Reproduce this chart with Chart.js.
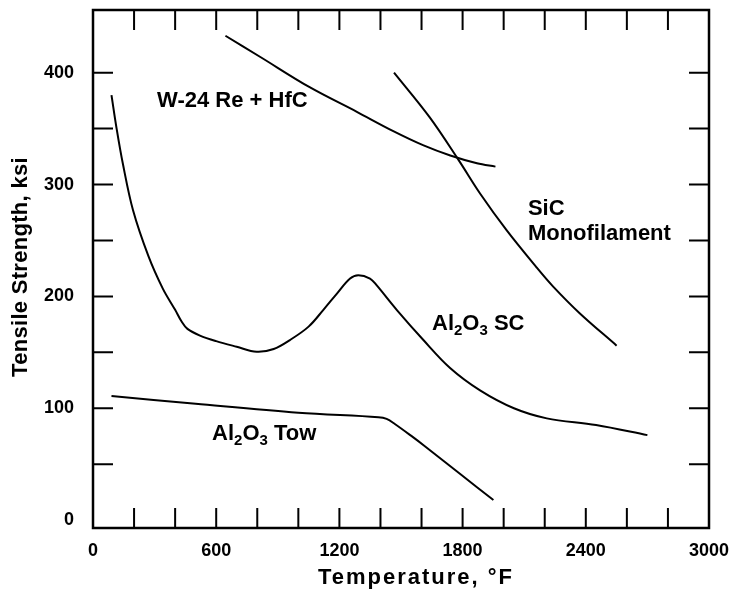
<!DOCTYPE html>
<html>
<head>
<meta charset="utf-8">
<script src="https://cdn.jsdelivr.net/npm/chart.js@4.4.1/dist/chart.umd.min.js"></script>
<style>
  html, body { margin: 0; padding: 0; background: #fff; }
  #wrap { width: 732px; height: 592px; }
</style>
</head>
<body>
<div id="wrap"><canvas id="chart"></canvas></div>
<script>
// tensile strength (ksi) against temperature (°F)
const w24Temp = [645, 815, 1055, 1285, 1460, 1610, 1740, 1870, 1960];
const w24Strength = [433, 414, 387, 365, 348, 335, 326, 319, 316];

const sicTemp = [1466, 1640, 1780, 1885, 2015, 2160, 2240, 2370, 2550];
const sicStrength = [400, 360, 322, 292, 259, 226, 209, 185, 156];

const scTemp = [90, 115, 145, 195, 270, 340, 400, 430, 460, 521, 600, 700, 797, 880, 959,
  1050, 1122, 1190, 1252, 1292, 1349, 1381, 1479, 1609, 1739, 1885, 2050, 2210, 2450, 2700];
const scStrength = [380, 350, 319, 277, 236, 207, 188, 178, 171, 165, 160, 155, 150.5, 153, 161,
  173, 188, 203, 216, 219, 216, 210, 188, 161, 136, 116, 100, 91, 85, 76];

const towTemp = [90, 500, 1000, 1390, 1430, 1470, 1560, 1610, 1790, 1950];
const towStrength = [111, 104, 96, 92, 90.5, 86, 74, 67, 41, 18];

const xTickLabels = [0, 600, 1200, 1800, 2400, 3000];
const yTickLabels = [0, 100, 200, 300, 400];
const xTickMarks = [200, 400, 600, 800, 1000, 1200, 1400, 1600, 1800, 2000, 2200, 2400, 2600, 2800];
const yTickMarks = [50, 100, 150, 200, 250, 300, 350, 400];

const FONT = "'Liberation Sans', Arial, Helvetica, sans-serif";

function pts(xs, ys) {
  return xs.map((x, i) => ({ x: x, y: ys[i] }));
}

function curve(label, xs, ys) {
  return {
    label: label,
    data: pts(xs, ys),
    borderColor: '#000',
    borderWidth: 2,
    pointRadius: 0,
    fill: false,
    tension: 0.35
  };
}

// curve captions, anchored in data units (left edge, baseline)
const notes = [
  { x: 312, y: 369, parts: [['W-24 Re + HfC']] },
  { x: 2118, y: 273, parts: [['SiC']] },
  { x: 2118, y: 250, parts: [['Monofilament']] },
  { x: 1651, y: 170, parts: [['Al'], ['2', true], ['O'], ['3', true], [' SC']] },
  { x: 580, y: 71.5, parts: [['Al'], ['2', true], ['O'], ['3', true], [' Tow']] }
];

function drawParts(ctx, parts, x, y) {
  parts.forEach(([t, sub]) => {
    ctx.font = (sub ? 'bold 15px ' : 'bold 22px ') + FONT;
    ctx.fillText(t, x, sub ? y + 5 : y);
    x += ctx.measureText(t).width;
  });
}

const frame = {
  id: 'frame',
  afterDatasetsDraw(chart) {
    const { ctx, chartArea: a, scales: { x, y } } = chart;
    ctx.save();
    ctx.strokeStyle = '#000';
    ctx.lineWidth = 2.5;
    ctx.strokeRect(a.left, a.top, a.right - a.left, a.bottom - a.top);

    // inward tick marks on all four sides
    ctx.lineWidth = 2;
    ctx.beginPath();
    xTickMarks.forEach(v => {
      const px = x.getPixelForValue(v);
      ctx.moveTo(px, a.bottom); ctx.lineTo(px, a.bottom - 20);
      ctx.moveTo(px, a.top); ctx.lineTo(px, a.top + 20);
    });
    yTickMarks.forEach(v => {
      const py = y.getPixelForValue(v);
      ctx.moveTo(a.left, py); ctx.lineTo(a.left + 20, py);
      ctx.moveTo(a.right, py); ctx.lineTo(a.right - 20, py);
    });
    ctx.stroke();

    ctx.fillStyle = '#000';
    ctx.textBaseline = 'alphabetic';
    ctx.textAlign = 'left';
    notes.forEach(n => drawParts(ctx, n.parts, x.getPixelForValue(n.x), y.getPixelForValue(n.y)));

    // axis titles
    ctx.font = 'bold 22px ' + FONT;
    ctx.textAlign = 'center';
    ctx.textBaseline = 'middle';
    ctx.letterSpacing = '2px';
    ctx.fillText('Temperature, °F', (a.left + a.right) / 2 + 15, 578);
    ctx.letterSpacing = '0.3px';
    ctx.translate(21, (a.top + a.bottom) / 2 - 2);
    ctx.rotate(-Math.PI / 2);
    ctx.fillText('Tensile Strength, ksi', 0, 0);
    ctx.restore();
  }
};

new Chart(document.getElementById('chart'), {
  type: 'line',
  data: {
    datasets: [
      curve('W-24 Re + HfC', w24Temp, w24Strength),
      curve('SiC Monofilament', sicTemp, sicStrength),
      curve('Al2O3 SC', scTemp, scStrength),
      curve('Al2O3 Tow', towTemp, towStrength)
    ]
  },
  options: {
    responsive: true,
    maintainAspectRatio: false,
    animation: false,
    layout: { padding: { top: 10, right: 23, left: 0, bottom: 0 } },
    plugins: { legend: { display: false }, tooltip: { enabled: false } },
    scales: {
      x: {
        type: 'linear',
        min: 0,
        max: 3000,
        afterBuildTicks: s => { s.ticks = xTickLabels.map(v => ({ value: v })); },
        afterFit: s => { s.height = 64; s.paddingLeft = 0; s.paddingRight = 0; },
        grid: { display: false, drawTicks: false },
        border: { display: false },
        ticks: { color: '#000', padding: 12, maxRotation: 0, autoSkip: false,
          callback: v => String(v),
          font: { family: FONT, size: 18, weight: 'bold' } }
      },
      y: {
        type: 'linear',
        min: -7,
        max: 456,
        afterBuildTicks: s => { s.ticks = yTickLabels.map(v => ({ value: v })); },
        afterFit: s => { s.width = 93; s.paddingTop = 0; s.paddingBottom = 0; },
        grid: { display: false, drawTicks: false },
        border: { display: false },
        ticks: { color: '#000', padding: 19, autoSkip: false,
          callback: v => String(v),
          font: { family: FONT, size: 18, weight: 'bold' } }
      }
    }
  },
  plugins: [frame]
});
</script>
</body>
</html>
